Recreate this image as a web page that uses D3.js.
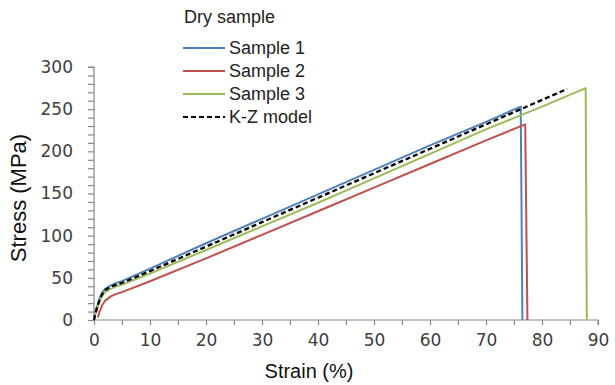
<!DOCTYPE html>
<html>
<head>
<meta charset="utf-8">
<script src="https://cdn.jsdelivr.net/npm/d3@7"></script>
<style>
	body { margin: 0; background: #fff; }
	svg { display: block; }
</style>
</head>
<body>
<div id="chart"></div>
<script>
// strain (%) / stress (MPa)
var sample1 = [[0,3],[0.5,15],[1,26],[1.5,33],[2,37],[3,41],[4,44],[5,46],[10,61],[20,91],[30,120],[40,149],[50,178],[60,207],[70,235],[76.2,253],[76.5,0]];
var sample2 = [[0.7,3],[1,10],[1.5,18],[2,23],[3,28],[4,31],[5,33],[10,46],[20,73],[30,101],[40,129],[50,157],[60,185],[70,213],[77,232],[77.4,0]];
var sample3 = [[0,2],[0.5,12],[1,22],[1.5,29],[2,33],[3,37],[4,40],[5,42],[10,55],[20,83],[30,111],[40,139],[50,168],[60,197],[70,226],[80,253],[87.8,275],[88,0]];
var kzModel = [[0,0],[0.5,14],[1,24],[1.5,31],[2,35.5],[3,39.5],[4,42],[5,44],[10,58],[20,87],[30,116],[40,145],[50,174],[60,203],[70,232],[84.5,274]];

var seriesNames = ['Sample 1', 'Sample 2', 'Sample 3', 'K-Z model'];
var xTicks = [0, 10, 20, 30, 40, 50, 60, 70, 80, 90];
var yTicks = [0, 50, 100, 150, 200, 250, 300];

var width = 615, height = 385;
var margin = {left: 94, right: 17, top: 67, bottom: 65};

var series = [
	{name: seriesNames[0], data: sample1, color: '#4f81bd', dash: null},
	{name: seriesNames[1], data: sample2, color: '#c0504d', dash: null},
	{name: seriesNames[2], data: sample3, color: '#9bbb59', dash: null},
	{name: seriesNames[3], data: kzModel, color: '#000000', dash: '5,3'}
];

var svg = d3.select('#chart').append('svg')
	.attr('width', width)
	.attr('height', height);

var x = d3.scaleLinear().domain([0, 90]).range([margin.left, width - margin.right]);
var y = d3.scaleLinear().domain([0, 300]).range([height - margin.bottom, margin.top]);

/*
 * Axes
 */
var xAxis = d3.axisBottom(x)
	.tickValues(d3.range(0, 91, 5))
	.tickSize(5)
	.tickFormat(function(d) { return xTicks.indexOf(d) >= 0 ? d : ''; });

var yAxis = d3.axisLeft(y)
	.tickValues(d3.range(0, 301, 10))
	.tickSize(6)
	.tickFormat(function(d) { return yTicks.indexOf(d) >= 0 ? d : ''; });

var gx = svg.append('g')
	.attr('transform', 'translate(0,' + y(0) + ')')
	.call(xAxis);

var gy = svg.append('g')
	.attr('transform', 'translate(' + x(0) + ',0)')
	.call(yAxis);

[gx, gy].forEach(function(g) {
	g.selectAll('path, line').attr('stroke', '#898989').attr('stroke-width', 1.2);
	g.selectAll('text')
		.attr('fill', '#404040')
		.style('font-family', '"DejaVu Sans", Verdana, sans-serif')
		.style('font-size', '17px');
});
gx.select('.domain').attr('d', 'M' + x(0) + ',0H' + x(90) + 'V5');
gy.select('.domain').attr('d', 'M-6,' + y(300) + 'H0V' + y(0));
gx.selectAll('text').attr('dy', '1.05em');
gy.selectAll('text').attr('x', -21);

svg.append('text')
	.attr('x', 309)
	.attr('y', 378)
	.attr('text-anchor', 'middle')
	.attr('fill', '#111')
	.style('font-family', '"Liberation Sans", Arial, sans-serif')
	.style('font-size', '20px')
	.text('Strain (%)');

svg.append('text')
	.attr('transform', 'translate(26,' + 198 + ') rotate(-90)')
	.attr('text-anchor', 'middle')
	.attr('fill', '#111')
	.style('font-family', '"Liberation Sans", Arial, sans-serif')
	.style('font-size', '22px')
	.text('Stress (MPa)');

/*
 * Curves
 */
var line = d3.line()
	.x(function(d) { return x(d[0]); })
	.y(function(d) { return y(d[1]); });

svg.selectAll('.curve')
	.data(series)
		.enter()
			.append('path')
				.attr('class', 'curve')
				.attr('fill', 'none')
				.attr('stroke', function(d) { return d.color; })
				.attr('stroke-width', function(d) { return d.dash ? 2.3 : 2; })
				.attr('stroke-dasharray', function(d) { return d.dash; })
				.attr('stroke-linejoin', 'round')
				.attr('d', function(d) { return line(d.data); });

/*
 * Legend
 */
svg.append('text')
	.attr('x', 184)
	.attr('y', 23)
	.attr('fill', '#222')
	.style('font-family', '"Liberation Sans", Arial, sans-serif')
	.style('font-size', '18px')
	.text('Dry sample');

var legend = svg.selectAll('.legend')
	.data(series)
		.enter()
			.append('g')
				.attr('class', 'legend')
				.attr('transform', function(d, i) { return 'translate(183,' + (48 + i * 23) + ')'; });

legend.append('line')
	.attr('x1', 0)
	.attr('x2', 42)
	.attr('stroke', function(d) { return d.color; })
	.attr('stroke-width', 2)
	.attr('stroke-dasharray', function(d) { return d.dash; });

legend.append('text')
	.attr('x', 46)
	.attr('y', 6)
	.attr('fill', '#222')
	.style('font-family', '"Liberation Sans", Arial, sans-serif')
	.style('font-size', '18px')
	.text(function(d) { return d.name; });
</script>
</body>
</html>
